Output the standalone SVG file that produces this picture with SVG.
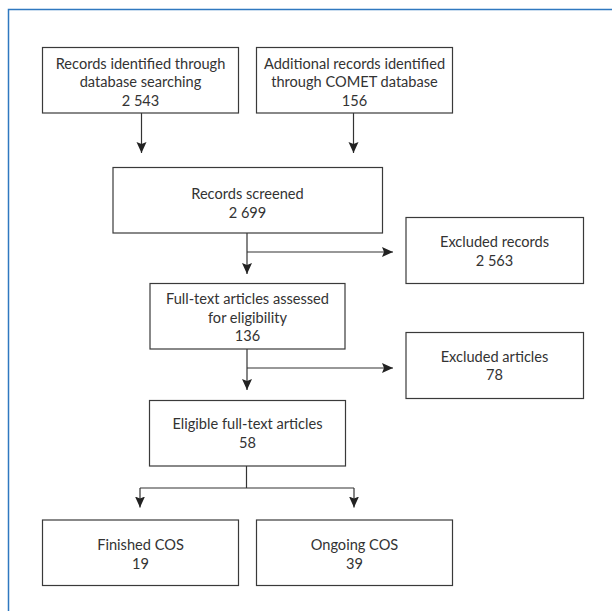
<svg xmlns="http://www.w3.org/2000/svg" width="612" height="611" viewBox="0 0 612 611">
<style>
.box{fill:#fff;stroke:#3a3a3a;stroke-width:1.2}
.t{font-family:Lato,"Open Sans","Liberation Sans",sans-serif;font-size:14.6px;fill:#333;text-anchor:middle}
.c{fill:none;stroke:#333;stroke-width:1.2}
.frame{fill:none;stroke:#2f78c0;stroke-width:1.5}
</style>
<defs>
<marker id="ah" markerUnits="userSpaceOnUse" markerWidth="12" markerHeight="12" refX="11" refY="5" orient="auto">
<path d="M0,0 L11,5 L0,10 L2,5 z" fill="#222"/>
</marker>
</defs>
<rect width="612" height="611" fill="#fff"/>
<path class="frame" d="M8.5,611 V9.5 H612"/>
<g id="connectors">
<path class="c" d="M141.5,113 V153" marker-end="url(#ah)"/>
<path class="c" d="M353.5,113 V153" marker-end="url(#ah)"/>
<path class="c" d="M247,233 V274" marker-end="url(#ah)"/>
<path class="c" d="M247,252 H393" marker-end="url(#ah)"/>
<path class="c" d="M247,349 V390" marker-end="url(#ah)"/>
<path class="c" d="M247,368 H393" marker-end="url(#ah)"/>
<path class="c" d="M246.5,466 V488 M140,488 H354"/>
<path class="c" d="M140,488 V507.5" marker-end="url(#ah)"/>
<path class="c" d="M354,488 V507.5" marker-end="url(#ah)"/>
</g>
<g id="n1">
<rect class="box" x="42.5" y="47.5" width="196" height="65.5"/>
<text class="t" x="140.5" y="68.5">Records identified through</text>
<text class="t" x="140.5" y="87">database searching</text>
<text class="t" x="140.5" y="105.5">2 543</text>
</g>
<g id="n2">
<rect class="box" x="256.5" y="47.5" width="196" height="65.5"/>
<text class="t" x="354.5" y="68.5">Additional records identified</text>
<text class="t" x="354.5" y="87">through COMET database</text>
<text class="t" x="354.5" y="105.5">156</text>
</g>
<g id="n3">
<rect class="box" x="113" y="167.5" width="269.5" height="65.5"/>
<text class="t" x="247.5" y="199">Records screened</text>
<text class="t" x="247.5" y="217.5">2 699</text>
</g>
<g id="n4">
<rect class="box" x="406" y="217.5" width="177.5" height="66"/>
<text class="t" x="494.5" y="246.5">Excluded records</text>
<text class="t" x="494.5" y="265.5">2 563</text>
</g>
<g id="n5">
<rect class="box" x="150" y="283.5" width="195" height="65.5"/>
<text class="t" x="247.5" y="304">Full-text articles assessed</text>
<text class="t" x="247.5" y="322.5">for eligibility</text>
<text class="t" x="247.5" y="341">136</text>
</g>
<g id="n6">
<rect class="box" x="406" y="332.5" width="177.5" height="66"/>
<text class="t" x="494.5" y="361.5">Excluded articles</text>
<text class="t" x="494.5" y="380">78</text>
</g>
<g id="n7">
<rect class="box" x="149.5" y="400.5" width="196" height="65.5"/>
<text class="t" x="247.5" y="429">Eligible full-text articles</text>
<text class="t" x="247.5" y="447.5">58</text>
</g>
<g id="n8">
<rect class="box" x="42.5" y="520" width="196" height="65.5"/>
<text class="t" x="140.5" y="550">Finished COS</text>
<text class="t" x="140.5" y="568.5">19</text>
</g>
<g id="n9">
<rect class="box" x="256.5" y="520" width="196" height="65.5"/>
<text class="t" x="354.5" y="550">Ongoing COS</text>
<text class="t" x="354.5" y="568.5">39</text>
</g>
</svg>
